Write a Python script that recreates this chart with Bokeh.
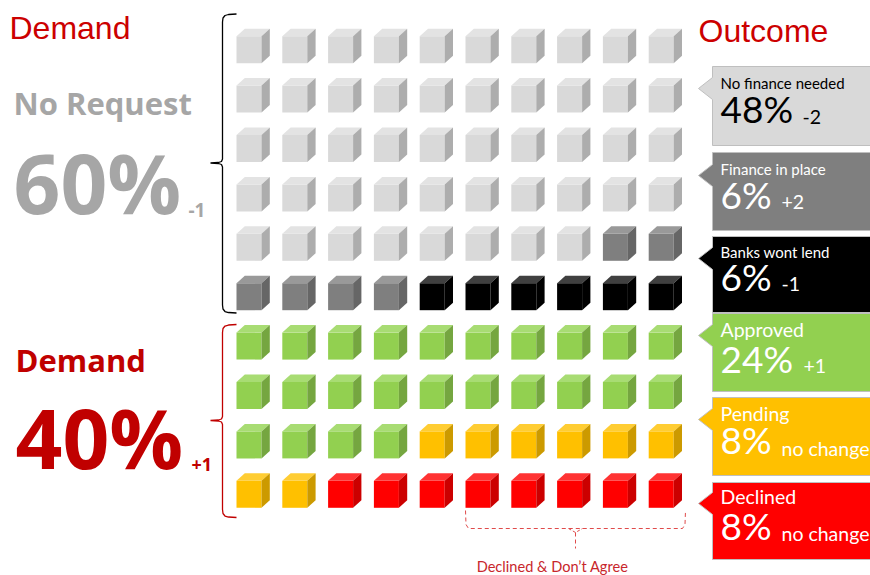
from bokeh.plotting import figure
from bokeh.embed import file_html
from bokeh.resources import INLINE
from bokeh.core.properties import value

# --- data
categories = ["No finance needed", "Finance in place", "Banks wont lend", "Approved", "Pending", "Declined"]
shares = [48, 6, 6, 24, 8, 8]
changes = ["-2", "+2", "-1", "+1", "no change", "no change"]
cells_in_category = [48, 6, 6, 24, 8, 8]
front_colors = ["#D9D9D9", "#7F7F7F", "#000000", "#92D050", "#FFC000", "#FF0000"]
top_colors = ["#E3E3E3", "#999999", "#404040", "#A8DC73", "#FFCD33", "#FF3333"]
side_colors = ["#ADADAD", "#666666", "#000000", "#75A640", "#CC9A00", "#CC0000"]
text_colors = ["#000000", "#FFFFFF", "#FFFFFF", "#FFFFFF", "#FFFFFF", "#FFFFFF"]

# --- layout constants (page pixels of the reference)
X0, DX, Y0, DY = 236.0, 45.8, 35.7, 49.4
W, H, DEPTH_X, DEPTH_Y = 25, 27, 8.3, 7.5
box_tops = [66, 152, 236, 313, 397, 482]
box_bottoms = [145, 230, 312, 391, 475, 559]
tip_ys = [88, 175, 258, 335, 419, 503]
label_sizes = [15, 15, 15, 19.5, 19.5, 19.5]
label_baselines = [89, 175, 258, 338, 422, 505]
pct_baselines = [124, 210, 292, 374, 455, 541]
change_baselines = [125, 210, 292, 374, 457, 542]
change_xs = [802, 781, 781, 803, 781, 781]
BOX_L, BOX_R, TIP_X = 712, 870, 698
BASELINE_SHIFT = {"Lato": 0.44, "Liberation Sans": 0.325, "Open Sans": 0.366}

p = figure(width=870, height=575, x_range=(0, 870), y_range=(575, 0),
           output_backend="svg", toolbar_location=None, min_border=0, outline_line_color=None)
p.axis.visible = False
p.grid.visible = False
p.background_fill_color = "white"

# --- waffle cubes
fronts, tops, sides = ([], []), ([], []), ([], [])
fc, tc, sc = [], [], []
k = 0
for cat, n in enumerate(cells_in_category):
    for _ in range(n):
        row, col = divmod(k, 10)
        x, y = X0 + col * DX, Y0 + row * DY
        fronts[0].append([x, x + W, x + W, x]); fronts[1].append([y, y, y + H, y + H])
        tops[0].append([x, x + DEPTH_X, x + W + DEPTH_X, x + W]); tops[1].append([y, y - DEPTH_Y, y - DEPTH_Y, y])
        sides[0].append([x + W, x + W + DEPTH_X, x + W + DEPTH_X, x + W])
        sides[1].append([y, y - DEPTH_Y, y + H - DEPTH_Y, y + H])
        fc.append(front_colors[cat]); tc.append(top_colors[cat]); sc.append(side_colors[cat])
        k += 1
for (xs, ys), cols in ((fronts, fc), (tops, tc), (sides, sc)):
    p.patches(xs, ys, fill_color=cols, line_color=None)


def bracket(y_top, y_mid, y_bot, color):
    xs = [236, 228, 224.5, 222.5, 222, 222, 221, 218, 210, 218, 221, 222, 222, 222.5, 224.5, 228, 236]
    ys = [y_top, y_top + 0.5, y_top + 1.5, y_top + 4, y_top + 8, y_mid - 4, y_mid - 1.5, y_mid - 0.5, y_mid,
          y_mid + 0.5, y_mid + 1.5, y_mid + 4, y_bot - 8, y_bot - 4, y_bot - 1.5, y_bot - 0.5, y_bot]
    p.line(xs, ys, line_color=color, line_width=1.3)


bracket(13.5, 162.5, 312.5, "#000000")
bracket(324, 420, 517, "#C00000")

# dashed bracket under the declined cubes
p.line([465, 465.5, 468, 682, 684.5, 685], [510, 524, 528, 528, 524, 510], line_color="#E04B4B", line_width=1, line_dash="4 3")
p.line([568, 575, 582], [528, 532, 528], line_color="#E04B4B", line_width=1, line_dash="3 2")
p.line([575, 575], [532, 548], line_color="#E04B4B", line_width=1, line_dash="4 3")


def text(x, y, s, size, color, font="Lato", style="normal", align="left"):
    p.text([x], [y - BASELINE_SHIFT[font] * size], text=[s], text_font=value(font), text_font_size=f"{size}px",
           text_color=color, text_font_style=style, text_baseline="alphabetic", text_align=align)


# --- callouts
for i, cat in enumerate(categories):
    t, b, ty = box_tops[i], box_bottoms[i], tip_ys[i]
    p.patch([BOX_L, BOX_R, BOX_R, BOX_L, BOX_L, TIP_X, BOX_L], [t, t, b, b, ty + 11, ty, ty - 11],
            fill_color=front_colors[i], line_color="#BFBFBF", line_width=1)
    tc_ = text_colors[i]
    text(720, label_baselines[i], cat, label_sizes[i], tc_)
    text(720, pct_baselines[i], f"{shares[i]}%", 37, tc_)
    text(change_xs[i], change_baselines[i], changes[i], 19.5, tc_)

# --- headings
text(9, 38, "Demand", 32, "#CC0000", "Liberation Sans")
text(698, 40.5, "Outcome", 32, "#CC0000", "Liberation Sans")
text(13, 114, "No Request", 31, "#A6A6A6", "Open Sans", "bold")
text(13, 212, "60%", 82, "#A6A6A6", "Open Sans", "bold")
text(188, 216, "-1", 19, "#A6A6A6", "Open Sans", "bold")
text(15, 371, "Demand", 31, "#C00000", "Open Sans", "bold")
text(15, 467, "40%", 82, "#C00000", "Open Sans", "bold")
text(191, 471, "+1", 18, "#C00000", "Open Sans", "bold")
text(552, 572, "Declined & Don\u2019t Agree", 14.6, "#C8262C", align="center")

open("out.html", "w").write(file_html(p, INLINE))
